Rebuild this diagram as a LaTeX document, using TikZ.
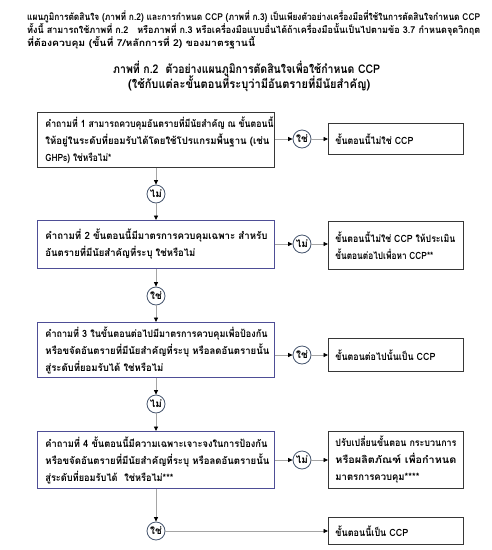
\documentclass[tikz,border=0pt]{standalone}
\usepackage{fontspec}
\usepackage{graphicx}
\newfontfamily\thai[Script=Thai]{Loma}
\usetikzlibrary{arrows.meta}
\newcommand\fitl[2]{\resizebox{#1pt}{\height}{#2}}
\definecolor{qblue}{RGB}{78,78,150}
\definecolor{rgray}{RGB}{55,55,55}
\definecolor{circ}{RGB}{70,85,110}
\definecolor{lgray}{RGB}{165,165,165}
\tikzset{
  qbox/.style={draw=qblue, line width=0.9pt, fill=white, minimum width=237pt,
    text width=221pt, inner xsep=8pt, inner ysep=3pt, align=left, anchor=north west,
    font=\thai\bfseries\fontsize{10}{17}\selectfont},
  rbox/.style={draw=rgray, line width=0.9pt, fill=white, minimum width=135pt,
    text width=121pt, inner xsep=7pt, inner ysep=3pt, align=left, anchor=north west,
    font=\thai\bfseries\fontsize{10}{17}\selectfont},
  ans/.style={circle, draw=circ, line width=0.8pt, fill=white, minimum size=18pt,
    inner sep=0pt, font=\thai\bfseries\fontsize{10}{10}\selectfont},
  conn/.style={draw=lgray, line width=0.8pt},
  arr/.style={conn, -{Triangle[length=4.5pt,width=4pt,color=black]}},
  hdr/.style={anchor=base west, inner sep=0pt, font=\thai\bfseries\fontsize{9.5}{12}\selectfont},
  ttl/.style={anchor=base west, inner sep=0pt, font=\thai\bfseries\fontsize{12}{14}\selectfont}
}
\begin{document}
\begin{tikzpicture}[x=1pt,y=-1pt]
\useasboundingbox (0,0) rectangle (491,550);
\fill[white] (0,0) rectangle (491,550);
% header
\node[hdr] (h1) at (27,20) {\fitl{453}{แผนภูมิการตัดสินใจ (ภาพที่ ก.2) และการกำหนด CCP (ภาพที่ ก.3) เป็นเพียงตัวอย่างเครื่องมือที่ใช้ในการตัดสินใจกำหนด CCP}};
\node[hdr] (h2) at (27,33) {\fitl{453}{ทั้งนี้ สามารถใช้ภาพที่ ก.2\hspace{6pt} หรือภาพที่ ก.3 หรือเครื่องมือแบบอื่นได้ถ้าเครื่องมือนั้นเป็นไปตามข้อ 3.7 กำหนดจุดวิกฤต}};
\node[hdr] (h3) at (27,46) {\fitl{228}{ที่ต้องควบคุม (ขั้นที่ 7/หลักการที่ 2) ของมาตรฐานนี้}};
\node[ttl] (t1) at (113,73) {\fitl{267}{ภาพที่ ก.2\hspace{8pt}ตัวอย่างแผนภูมิการตัดสินใจเพื่อใช้กำหนด CCP}};
\node[ttl] (t2) at (128,88) {\fitl{242}{(ใช้กับแต่ละขั้นตอนที่ระบุว่ามีอันตรายที่มีนัยสำคัญ)}};
% question boxes
\node[qbox, draw=rgray, minimum height=55pt] (q1) at (37,112) {\fitl{228}{คำถามที่ 1 สามารถควบคุมอันตรายที่มีนัยสำคัญ ณ ขั้นตอนนี้}\\\fitl{224}{ให้อยู่ในระดับที่ยอมรับได้โดยใช้โปรแกรมพื้นฐาน (เช่น}\\\fitl{66}{GHPs) ใช่หรือไม่*}};
\node[qbox, minimum height=48pt] (q2) at (37,220) {\fitl{222}{คำถามที่ 2 ขั้นตอนนี้มีมาตรการควบคุมเฉพาะ สำหรับ}\\\fitl{150}{อันตรายที่มีนัยสำคัญที่ระบุ ใช่หรือไม่}};
\node[qbox, minimum height=55pt] (q3) at (37,322) {\fitl{222}{คำถามที่ 3 ในขั้นตอนต่อไปมีมาตรการควบคุมเพื่อป้องกัน}\\\fitl{224}{หรือขจัดอันตรายที่มีนัยสำคัญที่ระบุ หรือลดอันตรายนั้น}\\\fitl{118}{สู่ระดับที่ยอมรับได้ ใช่หรือไม่}};
\node[qbox, minimum height=57pt] (q4) at (37,431) {\fitl{222}{คำถามที่ 4 ขั้นตอนนี้มีความเฉพาะเจาะจงในการป้องกัน}\\\fitl{224}{หรือขจัดอันตรายที่มีนัยสำคัญที่ระบุ หรือลดอันตรายนั้น}\\\fitl{128}{สู่ระดับที่ยอมรับได้\hspace{4pt} ใช่หรือไม่***}};
% result boxes
\node[rbox, minimum height=31pt] (r1) at (328,123) {\fitl{78}{ขั้นตอนนี้ไม่ใช่ CCP}};
\node[rbox, minimum height=48pt] (r2) at (328,221) {\fitl{120}{ขั้นตอนนี้ไม่ใช่ CCP ให้ประเมิน}\\\fitl{98}{ขั้นตอนต่อไปเพื่อหา CCP**}};
\node[rbox, minimum height=33pt] (r3) at (328,338) {\fitl{100}{ขั้นตอนต่อไปนั้นเป็น CCP}};
\node[rbox, minimum height=57pt] (r4) at (328,431) {\fitl{121}{ปรับเปลี่ยนขั้นตอน กระบวนการ}\\\fitl{121}{หรือผลิตภัณฑ์ เพื่อกำหนด}\\\fitl{84}{มาตรการควบคุม****}};
\node[rbox, minimum height=27pt] (r5) at (328,517) {\fitl{73}{ขั้นตอนนี้เป็น CCP}};
% answer circles
\node[ans] (a1r) at (302,139) {ใช่};
\node[ans] (a1d) at (156,194) {ไม่};
\node[ans] (a2r) at (302,244) {ไม่};
\node[ans] (a2d) at (156,296) {ใช่};
\node[ans] (a3r) at (302,355) {ใช่};
\node[ans] (a3d) at (156,404) {ไม่};
\node[ans] (a4r) at (302,460) {ไม่};
\node[ans] (a4d) at (156,531) {ใช่};
% connectors
\draw[arr] (q1.east |- a1r) -- (a1r);
\draw[arr] (a1r) -- (r1.west |- a1r);
\draw[arr] (q1.south -| a1d) -- (a1d);
\draw[arr] (a1d) -- (q2.north -| a1d);
\draw[arr] (q2.east |- a2r) -- (a2r);
\draw[arr] (a2r) -- (r2.west |- a2r);
\draw[arr] (q2.south -| a2d) -- (a2d);
\draw[arr] (a2d) -- (q3.north -| a2d);
\draw[arr] (q3.east |- a3r) -- (a3r);
\draw[arr] (a3r) -- (r3.west |- a3r);
\draw[arr] (q3.south -| a3d) -- (a3d);
\draw[arr] (a3d) -- (q4.north -| a3d);
\draw[arr] (q4.east |- a4r) -- (a4r);
\draw[arr] (a4r) -- (r4.west |- a4r);
\draw[arr] (q4.south -| a4d) -- (a4d);
\draw[arr] (a4d) -- (r5.west |- a4d);
\end{tikzpicture}
\end{document}
